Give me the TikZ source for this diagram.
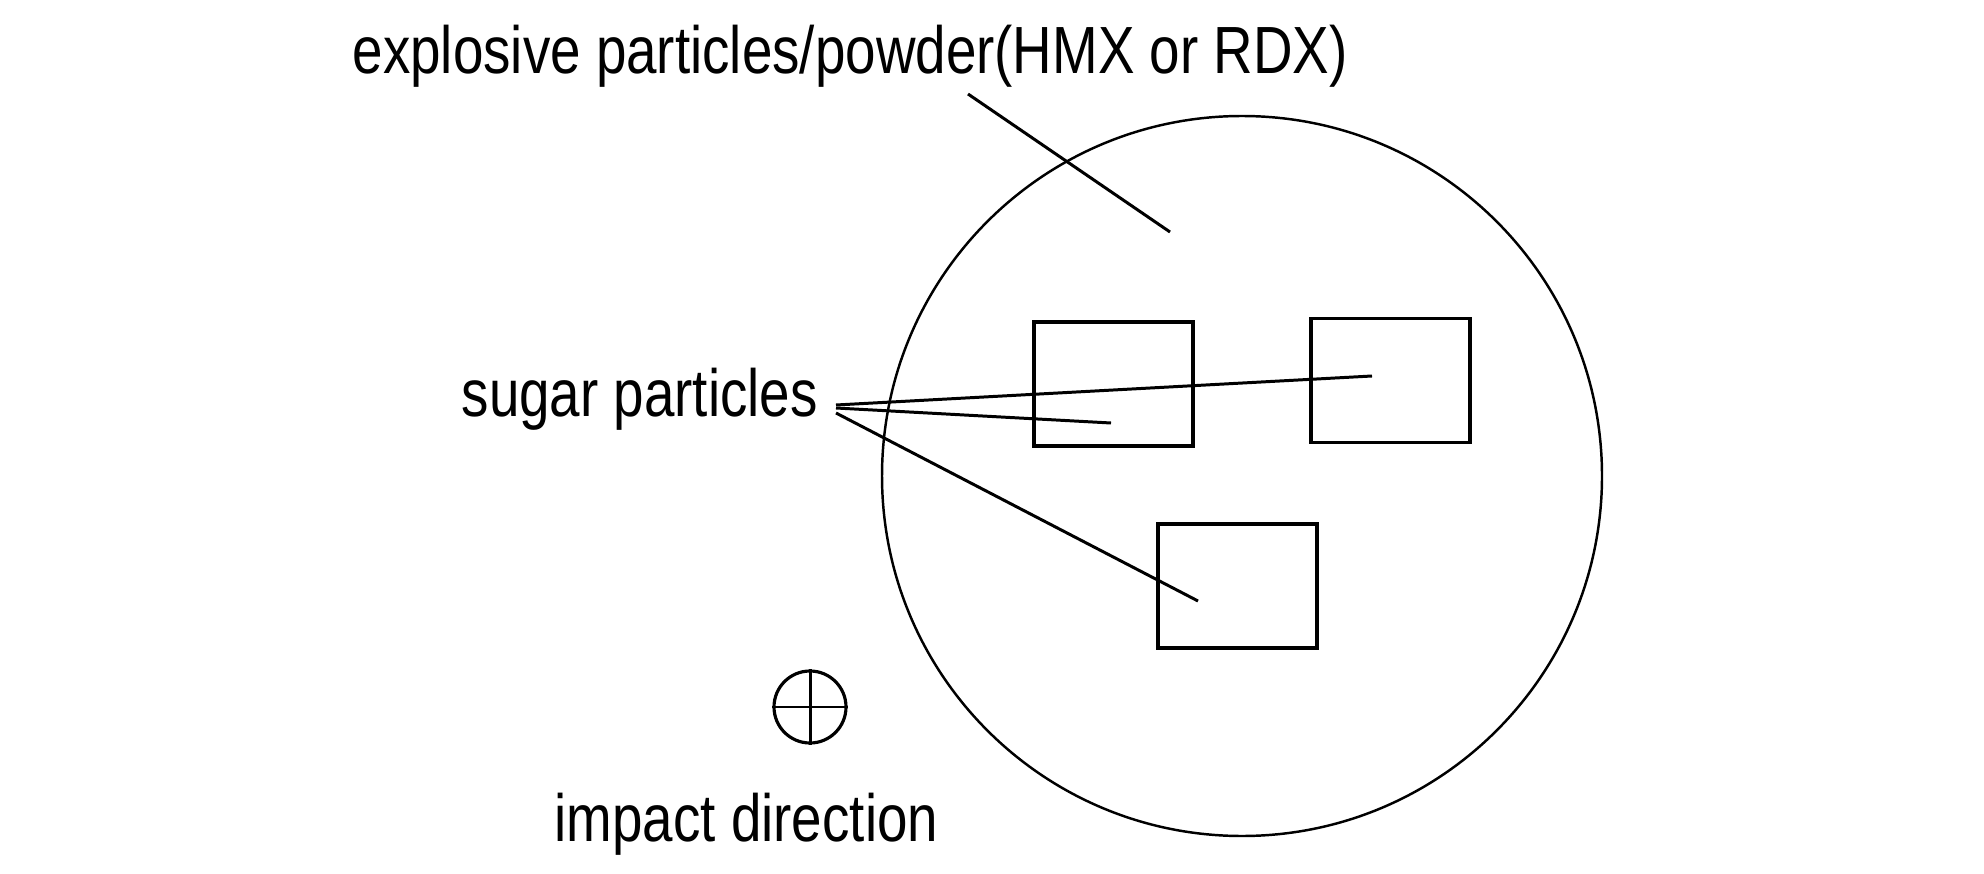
\documentclass[tikz,border=0pt]{standalone}
\usepackage{fontspec}
\setmainfont{Liberation Sans}[FakeStretch=0.82]
\usetikzlibrary{positioning}
\tikzstyle{sugar}=[draw,line width=1pt,minimum width=1.59cm,minimum height=1.24cm,inner sep=0]
\tikzstyle{lead}=[line width=0.85pt]
\tikzstyle{txt}=[anchor=base west,inner sep=0,font=\fontsize{19}{22}\selectfont]

\begin{document}
\begin{tikzpicture}[x=0.1mm,y=-0.1mm]
	\useasboundingbox (0,0) rectangle (1984,874);
	
	% grain
	\node[draw,circle,line width=0.7pt,minimum size=7.2cm,inner sep=0] (grain) at (1242,476) {};
	
	% sugar particles
	\node[sugar] (s1) at (1113.5,384) {};
	\node[sugar] (s2) at (1390.5,380.5) {};
	\node[sugar] (s3) at (1237.5,586) {};
	
	% labels
	\node[txt] (expl) at (352,74) {explosive particles/powder(HMX or RDX)};
	\node[txt] (sug) at (461,416) {sugar particles};
	\node[txt] (imp) at (554,841) {impact direction};
	
	\coordinate (e0) at (968,94);
	\coordinate (e1) at (1170,232);
	\draw[lead] (e0) -- (e1);
	
	\coordinate (sa) at (836,405);
	\coordinate (sb) at (836,408);
	\coordinate (sc) at (836,413);
	\coordinate (p1) at (1111,423);
	\coordinate (p2) at (1372,376);
	\coordinate (p3) at (1198,601);
	\draw[lead] (sa) -- (p2);
	\draw[lead] (sb) -- (p1);
	\draw[lead] (sc) -- (p3);
	
	% impact direction symbol
	\node[draw,circle,minimum size=0.72cm,inner sep=0,line width=0.9pt] (dir) at (810,707) {};
	\draw[lead] (dir.north) -- (dir.south) (dir.west) -- (dir.east);
	
\end{tikzpicture}
\end{document}
